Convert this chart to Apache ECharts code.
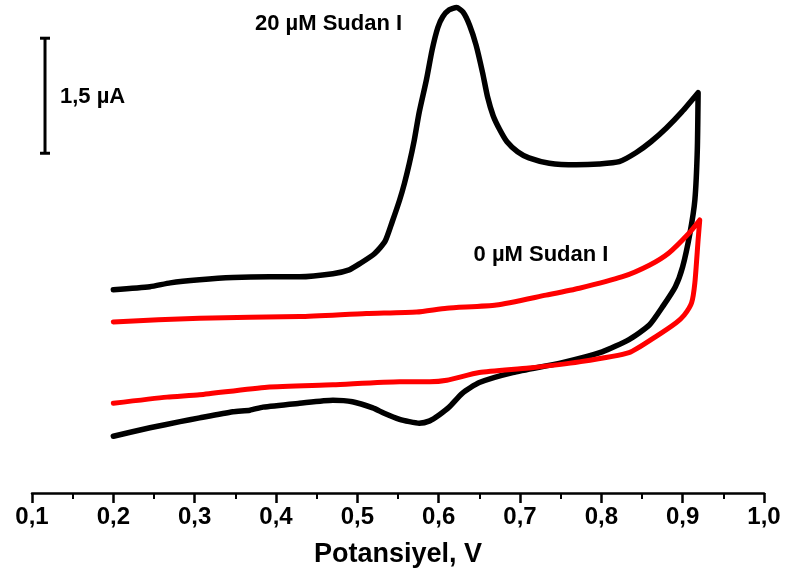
<!DOCTYPE html>
<html>
<head>
<meta charset="utf-8">
<script src="https://cdn.jsdelivr.net/npm/echarts@6/dist/echarts.min.js"></script>
<style>
  html, body { margin: 0; padding: 0; background: #fff; }
  #chart { width: 786px; height: 578px; }
</style>
</head>
<body>
<div id="chart"></div>
<script>
// Cyclic voltammograms: potential (V) vs current (µA)
const xTicks = [0.1, 0.2, 0.3, 0.4, 0.5, 0.6, 0.7, 0.8, 0.9, 1.0];
const xTickLabels = ['0,1', '0,2', '0,3', '0,4', '0,5', '0,6', '0,7', '0,8', '0,9', '1,0'];

// 20 µM Sudan I — anodic sweep then cathodic sweep
const sudan20Forward = [
  [0.200, 2.65], [0.245, 2.69], [0.270, 2.74], [0.306, 2.78], [0.347, 2.81], [0.392, 2.82],
  [0.429, 2.82], [0.470, 2.86], [0.490, 2.91], [0.503, 2.99], [0.521, 3.12], [0.534, 3.28],
  [0.543, 3.54], [0.552, 3.82], [0.558, 4.04], [0.564, 4.30], [0.570, 4.60], [0.576, 4.96],
  [0.585, 5.39], [0.592, 5.78], [0.599, 6.07], [0.605, 6.21], [0.613, 6.30], [0.622, 6.33],
  [0.630, 6.27], [0.638, 6.10], [0.646, 5.84], [0.654, 5.48], [0.660, 5.17], [0.667, 4.92],
  [0.675, 4.74], [0.684, 4.58], [0.697, 4.45], [0.711, 4.37], [0.736, 4.30], [0.769, 4.28],
  [0.797, 4.29], [0.822, 4.32], [0.843, 4.44], [0.861, 4.58], [0.880, 4.76], [0.899, 4.97],
  [0.919, 5.22]
];
const sudan20Reverse = [
  [0.919, 5.22], [0.918, 4.47], [0.915, 3.82], [0.909, 3.39], [0.900, 2.95], [0.891, 2.69],
  [0.876, 2.44], [0.859, 2.19], [0.834, 2.00], [0.801, 1.84], [0.752, 1.70], [0.691, 1.57],
  [0.650, 1.44], [0.629, 1.30], [0.613, 1.12], [0.601, 1.02], [0.589, 0.94], [0.576, 0.91],
  [0.564, 0.93], [0.552, 0.96], [0.533, 1.04], [0.519, 1.11], [0.494, 1.19], [0.470, 1.21],
  [0.429, 1.17], [0.384, 1.12], [0.368, 1.08], [0.347, 1.06], [0.306, 0.98], [0.282, 0.93],
  [0.245, 0.85], [0.200, 0.74]
];

// 0 µM Sudan I (blank) — anodic sweep then cathodic sweep
const blankForward = [
  [0.200, 2.23], [0.306, 2.28], [0.429, 2.30], [0.511, 2.34], [0.573, 2.36], [0.610, 2.41],
  [0.671, 2.45], [0.732, 2.58], [0.773, 2.67], [0.826, 2.82], [0.859, 2.97], [0.883, 3.13],
  [0.908, 3.39], [0.921, 3.56]
];
const blankReverse = [
  [0.921, 3.56], [0.919, 3.30], [0.915, 2.74], [0.911, 2.48], [0.902, 2.32], [0.892, 2.22],
  [0.867, 2.04], [0.834, 1.83], [0.773, 1.71], [0.711, 1.63], [0.650, 1.57], [0.610, 1.47],
  [0.589, 1.45], [0.552, 1.45], [0.470, 1.41], [0.389, 1.38], [0.306, 1.28], [0.266, 1.25],
  [0.200, 1.17]
];

// 1,5 µA scale bar
const scaleBarPotential = 0.116;
const scaleBarBottom = 4.43;
const scaleBarSpan = 1.5;

// annotations: [potential, current, text, anchor]
const annotations = [
  [0.4646, 6.12, '20 µM Sudan I', 'center'],
  [0.7258, 3.10, '0 µM Sudan I', 'center'],
  [0.1344, 5.16, '1,5 µA', 'left']
];

const FONT = "'Liberation Sans', Arial, Helvetica, sans-serif";

const chart = echarts.init(document.getElementById('chart'), null, { renderer: 'canvas' });

chart.setOption({
  backgroundColor: '#ffffff',
  animation: false,
  grid: { left: 32, right: 22, top: 6, bottom: 85, containLabel: false },
  xAxis: {
    type: 'value',
    min: 0.1,
    max: 1.0,
    interval: 0.1,
    name: 'Potansiyel, V',
    nameLocation: 'middle',
    nameGap: 48,
    nameTextStyle: { fontFamily: FONT, fontWeight: 'bold', fontSize: 27, color: '#000' },
    axisLine: { show: true, onZero: false, lineStyle: { color: '#000', width: 2.5 } },
    axisTick: { show: true, inside: false, length: 10, lineStyle: { color: '#000', width: 2.5 } },
    minorTick: { show: true, splitNumber: 2, length: 6, lineStyle: { color: '#000', width: 2 } },
    splitLine: { show: false },
    axisLabel: {
      margin: 12,
      fontFamily: FONT,
      fontWeight: 'bold',
      fontSize: 24,
      color: '#000',
      formatter: function (v) {
        const i = xTicks.findIndex(t => Math.abs(t - v) < 1e-6);
        return i >= 0 ? xTickLabels[i] : '';
      }
    }
  },
  yAxis: {
    type: 'value',
    min: 0,
    max: 6.35,
    show: false
  },
  series: [
    {
      name: '20 µM Sudan I',
      type: 'line',
      data: sudan20Forward.concat(sudan20Reverse.slice(1)),
      showSymbol: false,
      smooth: 0.2,
      clip: false,
      lineStyle: { color: '#000000', width: 5.5, join: 'round', cap: 'round' },
      z: 2
    },
    {
      name: '0 µM Sudan I',
      type: 'line',
      data: blankForward.concat(blankReverse.slice(1)),
      showSymbol: false,
      smooth: 0.2,
      clip: false,
      lineStyle: { color: '#ff0000', width: 5, join: 'round', cap: 'round' },
      z: 3
    },
    {
      name: 'scale',
      type: 'line',
      data: [
        [scaleBarPotential, scaleBarBottom],
        [scaleBarPotential, scaleBarBottom + scaleBarSpan]
      ],
      symbol: 'rect',
      symbolSize: [10, 3],
      showSymbol: true,
      clip: false,
      itemStyle: { color: '#000', opacity: 1 },
      lineStyle: { color: '#000', width: 3 },
      z: 4
    },
    {
      name: 'labels',
      type: 'scatter',
      symbolSize: 0,
      clip: false,
      silent: true,
      itemStyle: { color: '#000', opacity: 1 },
      data: annotations.map(a => ({
        value: [a[0], a[1]],
        label: {
          show: true,
          position: a[3] === 'left' ? 'right' : 'inside',
          distance: 0,
          formatter: a[2],
          fontFamily: FONT,
          fontWeight: 'bold',
          fontSize: 22,
          color: '#000000',
          opacity: 1,
          textBorderWidth: 0
        }
      })),
      z: 5
    }
  ]
});
</script>
</body>
</html>
